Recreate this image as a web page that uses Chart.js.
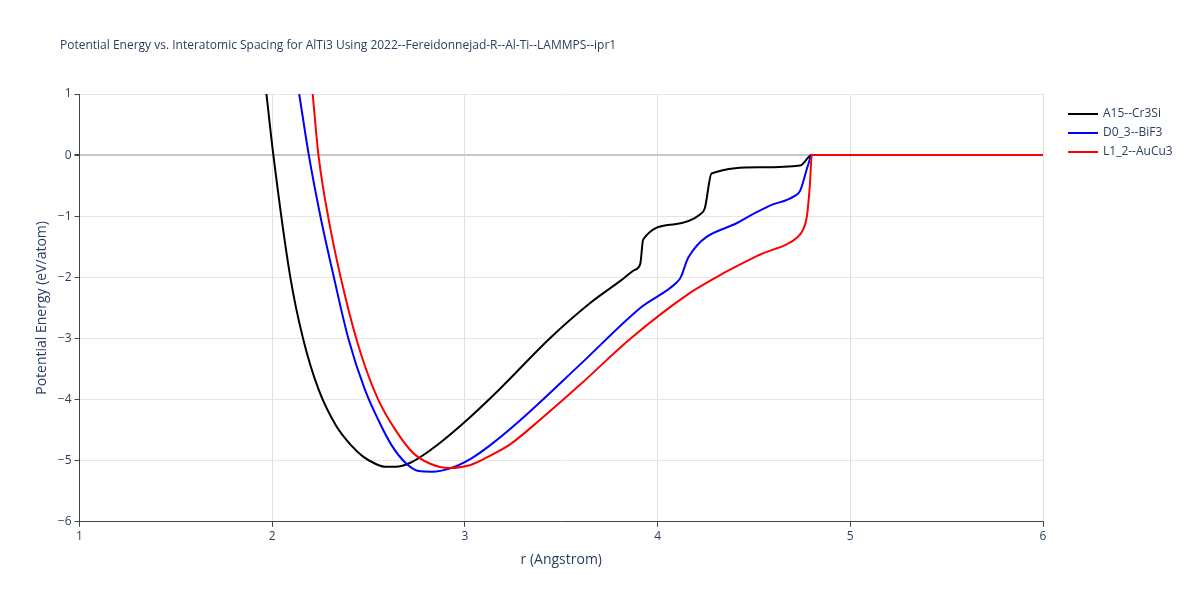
<!DOCTYPE html>
<html>
<head>
<meta charset="utf-8">
<script src="https://cdn.jsdelivr.net/npm/chart.js@4.4.0/dist/chart.umd.min.js"></script>
<style>
  body { margin: 0; background: #fff; }
  #wrap { width: 1200px; height: 600px; }
</style>
</head>
<body>
<div id="wrap"><canvas id="chart"></canvas></div>
<script>
// A15--Cr3Si
const a15R = [1.97, 2.006, 2.094, 2.16, 2.24, 2.33, 2.41, 2.47, 2.535, 2.587, 2.64, 2.72, 2.82, 2.98, 3.18, 3.44, 3.65, 3.81, 3.88, 3.91, 3.925, 4.09, 4.22, 4.245, 4.28, 4.53, 4.74, 4.8, 6];
const a15E = [1, 0, -2, -3, -3.83, -4.42, -4.75, -4.93, -5.05, -5.1, -5.1, -5.03, -4.83, -4.42, -3.83, -3.0, -2.42, -2.05, -1.88, -1.78, -1.38, -1.13, -0.97, -0.87, -0.3, -0.2, -0.17, 0, 0];
// D0_3--BiF3
const d03R = [2.14, 2.19, 2.25, 2.32, 2.395, 2.48, 2.55, 2.62, 2.69, 2.76, 2.83, 2.92, 3.03, 3.13, 3.29, 3.6, 3.91, 4.1, 4.12, 4.16, 4.43, 4.58, 4.71, 4.74, 4.78, 4.8, 6];
const d03E = [1, 0, -1, -2, -3, -3.83, -4.33, -4.75, -5.03, -5.17, -5.18, -5.13, -4.97, -4.75, -4.33, -3.42, -2.5, -2.08, -2, -1.67, -1.08, -0.83, -0.67, -0.58, -0.17, 0, 0];
// L1_2--AuCu3
const l12R = [2.21, 2.24, 2.3, 2.38, 2.46, 2.55, 2.64, 2.73, 2.82, 2.92, 3.03, 3.13, 3.24, 3.39, 3.6, 3.86, 4.17, 4.32, 4.53, 4.73, 4.755, 4.775, 4.79, 4.8, 6];
const l12E = [1, 0, -1.17, -2.33, -3.25, -4.0, -4.5, -4.87, -5.05, -5.12, -5.07, -4.92, -4.72, -4.33, -3.75, -3.0, -2.25, -1.97, -1.63, -1.33, -1.22, -1.0, -0.5, 0, 0];

const titleText = 'Potential Energy vs. Interatomic Spacing for AlTi3 Using 2022--Fereidonnejad-R--Al-Ti--LAMMPS--ipr1';
const toXY = (xs, ys) => xs.map((x, i) => ({ x: x, y: ys[i] }));
const fontFam = '"Open Sans", "Liberation Sans", sans-serif';

const mkSet = (label, xs, ys, color, order) => ({
    label: label,
    data: toXY(xs, ys),
    borderColor: color,
    backgroundColor: color,
    borderWidth: 2,
    pointRadius: 0,
    cubicInterpolationMode: 'monotone',
    order: order
});

// title + legend drawn by hand so the plot area keeps its place
const decor = {
    id: 'decor',
    afterDraw(chart) {
        const ctx = chart.ctx;
        ctx.save();
        ctx.fillStyle = '#2a3f5f';
        ctx.font = '12px ' + fontFam;
        ctx.textBaseline = 'middle';
        ctx.fillText(titleText, 60, 46);
        chart.data.datasets.forEach((ds, i) => {
            const y = 114 + i * 19;
            ctx.strokeStyle = ds.borderColor;
            ctx.lineWidth = 2;
            ctx.beginPath();
            ctx.moveTo(1068, y);
            ctx.lineTo(1098, y);
            ctx.stroke();
            ctx.fillStyle = '#2a3f5f';
            ctx.fillText(ds.label, 1103, y);
        });
        ctx.restore();
    }
};

new Chart(document.getElementById('chart'), {
    type: 'line',
    data: {
        datasets: [
            mkSet('A15--Cr3Si', a15R, a15E, '#000000', 2),
            mkSet('D0_3--BiF3', d03R, d03E, '#0000ff', 1),
            mkSet('L1_2--AuCu3', l12R, l12E, '#ff0000', 0)
        ]
    },
    plugins: [decor],
    options: {
        responsive: true,
        maintainAspectRatio: false,
        animation: false,
        layout: { padding: { left: 30, right: 157, top: 94, bottom: 28 } },
        plugins: {
            title: { display: false },
            legend: { display: false }
        },
        scales: {
            x: {
                type: 'linear',
                min: 1, max: 6,
                title: { display: true, text: 'r (Angstrom)', color: '#2a3f5f', font: { family: fontFam, size: 14 } },
                ticks: { stepSize: 1, color: '#2a3f5f', font: { family: fontFam, size: 12 } },
                grid: { color: '#e0e0e0', tickColor: '#444', tickLength: 5 },
                border: { color: '#444' }
            },
            y: {
                min: -6, max: 1,
                title: { display: true, text: 'Potential Energy (eV/atom)', color: '#2a3f5f', font: { family: fontFam, size: 14 } },
                ticks: {
                    stepSize: 1, color: '#2a3f5f', font: { family: fontFam, size: 12 },
                    callback: v => v < 0 ? '\u2212' + Math.abs(v) : v
                },
                grid: {
                    color: ctx => ctx.tick && ctx.tick.value === 0 ? '#c8c8c8' : '#e6e6e6',
                    lineWidth: ctx => ctx.tick && ctx.tick.value === 0 ? 2 : 1,
                    tickColor: '#444', tickLength: 5
                },
                border: { color: '#444' }
            }
        }
    }
});
</script>
</body>
</html>
